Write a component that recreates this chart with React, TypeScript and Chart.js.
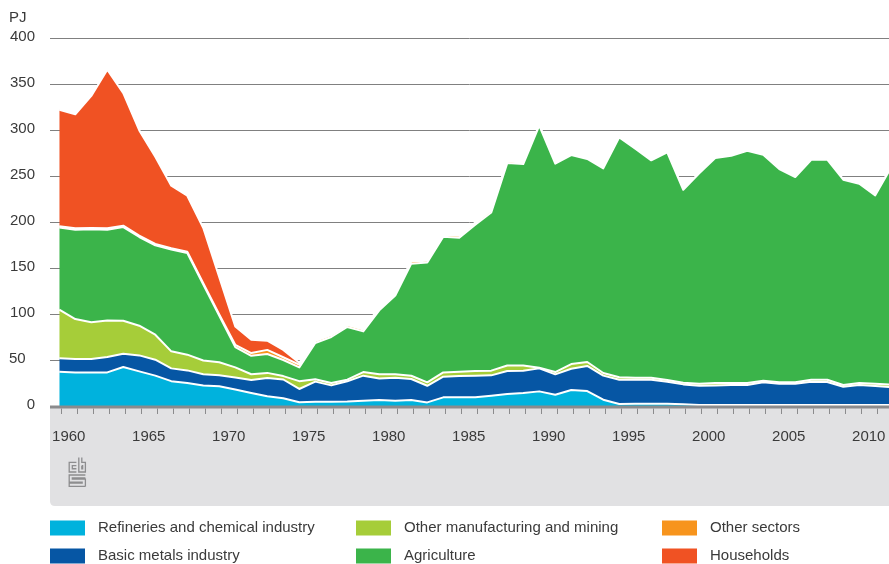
import React, { useEffect, useRef } from 'react';
import { Chart, registerables } from 'chart.js';

Chart.register(...registerables);

const years = [
  1960, 1961, 1962, 1963, 1964, 1965, 1966, 1967, 1968, 1969,
  1970, 1971, 1972, 1973, 1974, 1975, 1976, 1977, 1978, 1979,
  1980, 1981, 1982, 1983, 1984, 1985, 1986, 1987, 1988, 1989,
  1990, 1991, 1992, 1993, 1994, 1995, 1996, 1997, 1998, 1999,
  2000, 2001, 2002, 2003, 2004, 2005, 2006, 2007, 2008, 2009,
  2010, 2011, 2012,
];

const refineries = [
  37.3, 36.5, 36.5, 36.5, 42.4, 37.6, 33, 27, 25, 22.4,
  21.5, 18, 14.1, 10.5, 8.5, 4, 4.7, 4.7, 5, 5.8,
  6.5, 5.8, 6.5, 3.9, 9.4, 9.4, 9.4, 11.2, 13, 14.1,
  15.9, 12.3, 17.4, 16.3, 6.8, 2.2, 2.5, 2.5, 2.5, 2,
  1, 1, 1, 1, 1, 1, 1, 1, 1, 1,
  1, 1, 1,
];

const basicMetals = [
  14.7, 14.5, 14.5, 16.7, 14.4, 17.4, 17.3, 13.9, 13.7, 12.1,
  12, 13, 14.2, 20, 20.3, 14.5, 21.8, 17.7, 21.8, 27.2,
  23.5, 25, 22.8, 18.1, 22.4, 23.2, 23.5, 22.1, 25, 24.3,
  25, 22.1, 23.1, 27.2, 26.2, 26.4, 26.1, 26.1, 23.9, 21.5,
  21.1, 21.4, 21.8, 21.8, 24.7, 23.2, 23.2, 25.4, 25, 20,
  21.8, 20.7, 19.6,
];

const otherManufacturing = [
  52.7, 43.5, 40, 39.8, 35.9, 32.3, 27.2, 18.5, 17.1, 15,
  14, 11, 6.2, 5.5, 3.7, 8.5, 2.5, 2.6, 1.8, 3.9,
  4.4, 3.6, 3.6, 3.7, 4.7, 4.7, 5.1, 5.1, 6.1, 5.7,
  0.7, 2.5, 5.1, 4.3, 2.9, 2.6, 2.2, 2.2, 1.9, 1.8,
  2.1, 2.6, 2.2, 2.2, 1.8, 1.5, 1.5, 2.2, 2.6, 1.8,
  2.2, 2.5, 2.5,
];

const agriculture = [
  89.3, 97.1, 101, 98.6, 101.8, 96.4, 97.1, 110.6, 110.5, 82.5,
  50.5, 22, 20, 20.5, 17.5, 15, 39.5, 50, 57.3, 44.2,
  69.6, 85.6, 121.8, 130.3, 147.5, 145.7, 159, 172, 219.9, 218.9,
  263.1, 226.5, 227.2, 220.7, 222.4, 260.8, 248.9, 236.2, 247.4, 209.7,
  228.8, 244.5, 247, 252.5, 245.5, 231.9, 223.2, 239.1, 239.1, 223.2,
  216.6, 204.8, 236.5,
];

const otherSectors = [
  1.5, 1.5, 1.5, 1.5, 1.5, 1.5, 1.5, 1.5, 1.5, 1.5,
  1.5, 2.5, 3, 4.5, 3, 3, 2, 2, 2.1, 1.9,
  2, 1.5, 2.3, 2, 2, 2, 2, 2.1, 2, 1.5,
  0.3, 0, 0, 0, 0, 0, 0, 0, 0, 0,
  0, 0, 0, 0, 0, 0, 0, 0, 0, 0,
  0, 0, 0,
];

const households = [
  126.5, 123.9, 143.5, 172.4, 144, 114.4, 94.9, 68, 60.8, 60,
  40.5, 20, 14.5, 10, 8, 2, 1, 1, 1, 1,
  1, 0.5, 1, 1, 0.5, 0.5, 0.5, 0.5, 0.5, 0.5,
  0, 0, 0, 0, 0, 0, 0, 0, 0, 0,
  0, 0, 0, 0, 0, 0, 0, 0, 0, 0,
  0, 0, 0,
];

const seriesLabels = [
  'Refineries and chemical industry',
  'Basic metals industry',
  'Other manufacturing and mining',
  'Agriculture',
  'Other sectors',
  'Households',
];

const seriesColors = ['#00b2dd', '#0656a4', '#a6cd39', '#3bb44a', '#f7941d', '#f05223'];

const yTickValues = [0, 50, 100, 150, 200, 250, 300, 350, 400];
const xLabelYears = [1960, 1965, 1970, 1975, 1980, 1985, 1990, 1995, 2000, 2005, 2010];

const unitLabel = 'PJ';

const FONT = '15px "Liberation Sans", Arial, sans-serif';
const TEXT = '#3a3a3a';

// legend layout: [seriesIndex, column, row]
const legendLayout: [number, number, number][] = [
  [0, 0, 0],
  [2, 1, 0],
  [4, 2, 0],
  [1, 0, 1],
  [3, 1, 1],
  [5, 2, 1],
];

function drawLogo(ctx: CanvasRenderingContext2D, x0: number, y0: number) {
  const s = 1.2;
  const P = (x: number, y: number): [number, number] => [x0 + x * s, y0 + y * s];
  const path = (pts: [number, number][]) => {
    pts.forEach(([x, y], i) => {
      const [px, py] = P(x, y);
      if (i === 0) ctx.moveTo(px, py);
      else ctx.lineTo(px, py);
    });
  };
  ctx.save();
  ctx.strokeStyle = '#8d8d8f';
  ctx.lineWidth = 1.3;
  ctx.beginPath();
  // "c"
  path([[7, 4.5], [1, 4.5], [1, 12.5], [7, 12.5]]);
  path([[7, 7.2], [3.6, 7.2], [3.6, 9.8], [7, 9.8]]);
  // "b"
  path([[9, 0.5], [9, 12.5], [14.5, 12.5], [14.5, 4.5], [11.5, 4.5], [11.5, 0.5]]);
  path([[11.5, 7.2], [11.5, 9.8], [12.2, 9.8], [12.2, 7.2], [11.5, 7.2]]);
  // "s"
  path([[14.5, 15], [1, 15], [1, 21], [11.8, 21], [11.8, 21.8], [1, 21.8], [1, 24.5], [14.5, 24.5]]);
  path([[14.5, 17.5], [3.6, 17.5], [3.6, 18.5], [14.5, 18.5], [14.5, 24.5]]);
  ctx.stroke();
  ctx.restore();
}

const decorPlugin = {
  id: 'decor',
  beforeDatasetsDraw(chart: any) {
    const { ctx, chartArea, scales } = chart;
    const y = scales.y;
    ctx.save();
    ctx.strokeStyle = '#808080';
    ctx.lineWidth = 1;
    yTickValues.forEach((v) => {
      if (v === 0) return;
      const py = Math.round(y.getPixelForValue(v)) + 0.5;
      ctx.beginPath();
      ctx.moveTo(chartArea.left, py);
      ctx.lineTo(chartArea.right, py);
      ctx.stroke();
    });
    ctx.restore();
  },
  afterDatasetsDraw(chart: any) {
    const { ctx, chartArea, scales } = chart;
    const x = scales.x;
    const y = scales.y;
    const left = chartArea.left;
    const right = chart.width;
    const y0 = y.getPixelForValue(0);
    ctx.save();
    // grey band
    const bandTop = y0 + 2;
    const bandBottom = 506;
    const r = 5;
    ctx.fillStyle = '#e1e1e3';
    ctx.beginPath();
    ctx.moveTo(left, bandTop);
    ctx.lineTo(right, bandTop);
    ctx.lineTo(right, bandBottom);
    ctx.lineTo(left + r, bandBottom);
    ctx.quadraticCurveTo(left, bandBottom, left, bandBottom - r);
    ctx.closePath();
    ctx.fill();
    // axis line
    ctx.fillStyle = '#8b8b8d';
    ctx.fillRect(left, y0 - 0.5, right - left, 3);
    // year ticks
    ctx.strokeStyle = '#8b8b8d';
    ctx.lineWidth = 1;
    years.forEach((yr) => {
      const px = Math.round(x.getPixelForValue(yr) + 1.4) + 0.5;
      if (px > right) return;
      ctx.beginPath();
      ctx.moveTo(px, y0 + 2.5);
      ctx.lineTo(px, y0 + 8);
      ctx.stroke();
    });
    // x labels
    ctx.fillStyle = TEXT;
    ctx.font = FONT;
    ctx.textAlign = 'center';
    ctx.textBaseline = 'middle';
    xLabelYears.forEach((yr) => {
      ctx.fillText(String(yr), x.getPixelForValue(yr) + 9.5, 437);
    });
    // y labels
    ctx.textBaseline = 'middle';
    yTickValues.forEach((v) => {
      const py = y.getPixelForValue(v) - 1;
      if (v === 50) {
        ctx.textAlign = 'left';
        ctx.fillText(String(v), 9, py);
      } else {
        ctx.textAlign = 'right';
        ctx.fillText(String(v), 35, py);
      }
    });
    ctx.textAlign = 'left';
    ctx.fillText(unitLabel, 9, 18);
    // logo
    drawLogo(ctx, 68, 457);
    // legend
    const colX = [50, 356, 662];
    const rowY = [528, 556];
    legendLayout.forEach(([si, c, rIdx]) => {
      ctx.fillStyle = seriesColors[si];
      ctx.fillRect(colX[c], rowY[rIdx] - 7.5, 35, 15);
      ctx.fillStyle = TEXT;
      ctx.textAlign = 'left';
      ctx.textBaseline = 'middle';
      ctx.fillText(seriesLabels[si], colX[c] + 48, rowY[rIdx]);
    });
    ctx.restore();
  },
};

export default function App() {
  const canvasRef = useRef<HTMLCanvasElement | null>(null);

  useEffect(() => {
    const canvas = canvasRef.current;
    if (!canvas) return;
    const seriesValues = [refineries, basicMetals, otherManufacturing, agriculture, otherSectors, households];
    const datasets = seriesValues.map((vals, i) => ({
      label: seriesLabels[i],
      data: years.map((yr, k) => ({ x: yr, y: vals[k] })),
      backgroundColor: seriesColors[i],
      borderColor: '#ffffff',
      borderWidth: 2,
      fill: i === 0 ? 'origin' : '-1',
      pointRadius: 0,
      pointHoverRadius: 0,
      tension: 0,
    }));
    const chart = new Chart(canvas, {
      type: 'line',
      data: { datasets },
      options: {
        responsive: false,
        animation: false,
        devicePixelRatio: 1,
        layout: { padding: { left: 50, right: 0, top: 38, bottom: 158 } },
        plugins: {
          legend: { display: false },
          tooltip: { enabled: false },
        },
        elements: { line: { borderJoinStyle: 'round' } },
        scales: {
          x: { type: 'linear', display: false, min: 1959.42, max: 2011.86 },
          y: { display: false, stacked: true, min: 0, max: 400 },
        },
      },
      plugins: [decorPlugin],
    } as any);
    return () => chart.destroy();
  }, []);

  return (
    <div style={{ position: 'absolute', left: 0, top: 0, width: 889, height: 564, background: '#ffffff' }}>
      <canvas ref={canvasRef} width={889} height={564} style={{ display: 'block' }} />
    </div>
  );
}
